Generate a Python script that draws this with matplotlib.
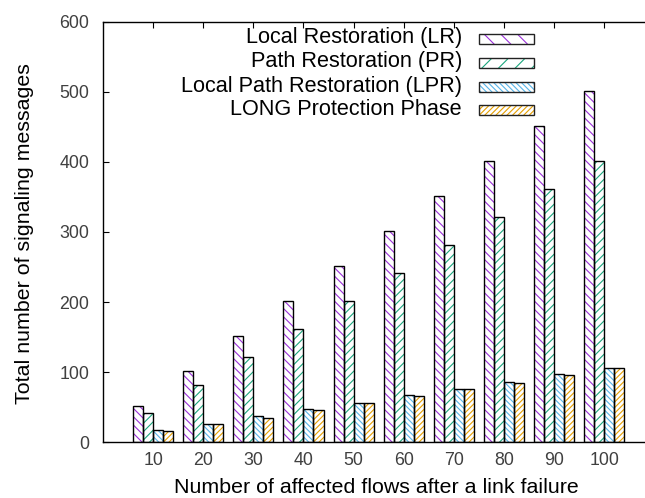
import numpy as np
import matplotlib
matplotlib.use('Agg')
import matplotlib.pyplot as plt
from matplotlib.patches import Rectangle

# ----------------------------------------------------------------------
# DATA
# ----------------------------------------------------------------------
flows = ['10', '20', '30', '40', '50', '60', '70', '80', '90', '100']
lr_msgs = [51, 101, 151, 201, 251, 301, 351, 401, 451, 501]
pr_msgs = [41, 81, 121, 161, 201, 241, 281, 321, 361, 401]
lpr_msgs = [17, 26, 37, 47, 56, 67, 76, 86, 97, 106]
long_msgs = [16, 26, 35, 46, 56, 66, 76, 85, 96, 106]

series_names = ['Local Restoration (LR)', 'Path Restoration (PR)',
                'Local Path Restoration (LPR)', 'LONG Protection Phase']
series_colors = ['#9a30d8', '#1aa57c', '#56b4e9', '#e69f00']
bar_hatches = ['\\\\\\\\', '////', '\\\\\\\\\\\\', '//////']
key_hatches = ['\\\\', '//', '\\\\\\\\\\\\', '//////']
y_ticks = [0, 100, 200, 300, 400, 500, 600]
# ----------------------------------------------------------------------

W, H = 645, 498
plt.rcParams['font.family'] = ['Liberation Sans', 'DejaVu Sans']
plt.rcParams['hatch.linewidth'] = 0.8

fig = plt.figure(figsize=(W / 100, H / 100), dpi=100)
ax = fig.add_axes([103 / W, 1 - 442 / H, (W - 103) / W, 420 / H])

x = np.arange(len(flows))
width = 0.2
all_series = [lr_msgs, pr_msgs, lpr_msgs, long_msgs]
for k, vals in enumerate(all_series):
    pos = x + (k - 1.5) * width
    # hatch drawn in the series colour, outline in black on top
    ax.bar(pos, vals, width, facecolor='white', edgecolor=series_colors[k],
           hatch=bar_hatches[k], linewidth=0, zorder=2)
    ax.bar(pos, vals, width, fill=False, edgecolor='black', linewidth=1.0, zorder=3)

ax.set_xlim(-1, (W - 153.3) / 50.1)
ax.set_ylim(0, 600)
ax.set_xticks(x)
ax.set_xticklabels(flows)
ax.set_yticks(y_ticks)
ax.spines['right'].set_visible(False)
for s in ['left', 'top', 'bottom']:
    ax.spines[s].set_linewidth(1.0)
ax.tick_params(axis='x', direction='in', top=True, length=4, pad=7,
               labelsize=12.8, labelcolor='#404040')
ax.tick_params(axis='y', direction='in', right=False, length=4, pad=10,
               labelsize=12.8, labelcolor='#404040')

fig.text(376 / W, 1 - 487 / H, 'Number of affected flows after a link failure',
         ha='center', va='center', fontsize=15.4)
fig.text(25 / W, 1 - 234 / H, 'Total number of signaling messages',
         ha='center', va='center', rotation=90, fontsize=15.4)

# key in the top-left area, text right aligned, sample boxes to the right
baselines = [43.5, 67.5, 91.5, 115.0]
for k in range(4):
    fig.text(462 / W, 1 - baselines[k] / H, series_names[k], ha='right',
             va='baseline', fontsize=15.6)
    yc = baselines[k] - 4.5
    for fill in (True, False):
        r = Rectangle((479 / W, 1 - (yc + 5) / H), 55 / W, 10 / H,
                      transform=fig.transFigure,
                      facecolor='white' if fill else 'none',
                      edgecolor=series_colors[k] if fill else '#222222',
                      hatch=key_hatches[k] if fill else None,
                      linewidth=0 if fill else 1.0)
        fig.patches.append(r)

fig.savefig('out.png', dpi=100)
